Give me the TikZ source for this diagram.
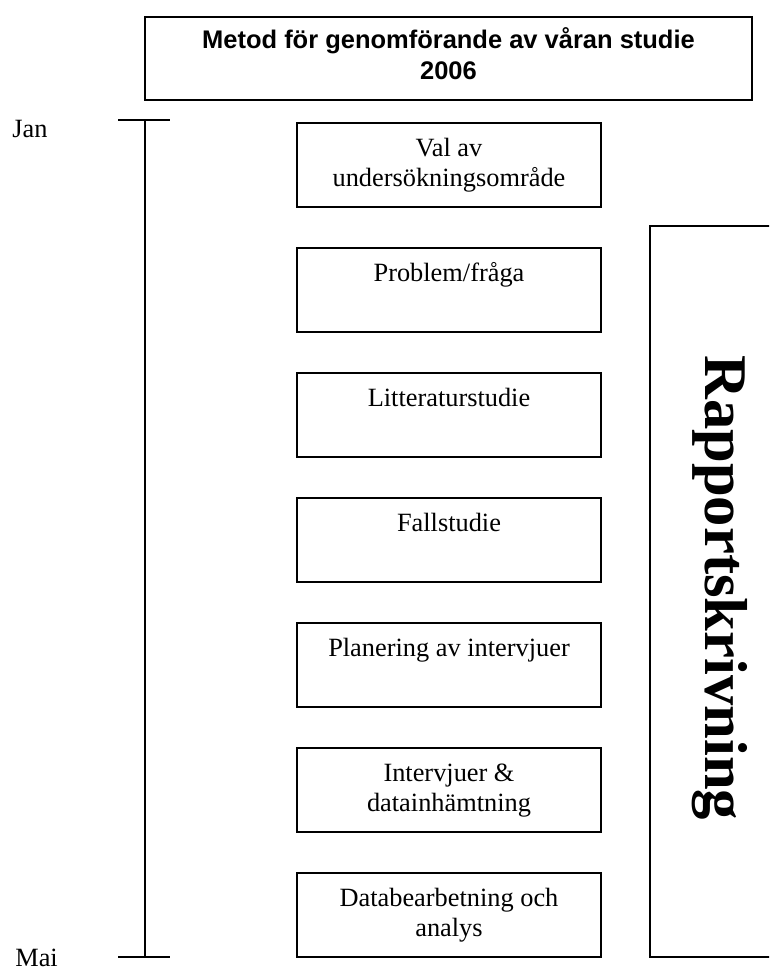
\documentclass[tikz,border=0pt]{standalone}
\usepackage{fontspec}
\setmainfont{Liberation Serif}
\newfontfamily\titlefont{Liberation Sans}

\def \boxw {6.08cm}
\def \boxh {1.68cm}
\def \firstline {0.67cm}
\def \steptext #1{\parbox[c][\boxh][t]{\boxw}{\centering\rule{0pt}{\firstline}#1}}

\tikzset{
  stepbox/.style={draw, line width=1.1pt, inner sep=0pt, anchor=north,
    font=\fontsize{15}{17}\selectfont},
  titlebox/.style={draw, line width=1.1pt, inner sep=0pt, anchor=north,
    font=\titlefont\bfseries\fontsize{14.5}{17.6}\selectfont},
  monthtext/.style={anchor=base west, inner sep=0pt, font=\fontsize{15}{17}\selectfont},
  timeline/.style={line width=0.8pt}
}

\begin{document}
\begin{tikzpicture}[x=0.02cm, y=-0.02cm]
\useasboundingbox (0,0) rectangle (769,971);
\clip (0,0) rectangle (769,971);

\node[titlebox] (title) at (448.5,16)
  {\parbox[c][1.66cm][t]{12.14cm}{\centering\rule{0pt}{0.64cm}Metod för genomförande av våran studie\\2006}};

% time axis
\node[monthtext] (jan) at (12,137) {Jan};
\node[monthtext] (mai) at (15,966) {Mai};
\draw[timeline] (118,120) -- (170,120);
\draw[timeline] (145,120) -- (145,957);
\draw[timeline] (118,957) -- (170,957);

% steps
\draw (449,122) node[stepbox] (val) {\steptext{Val av\\undersökningsområde}};
\draw (449,247) node[stepbox] (problem) {\steptext{Problem/fråga}};
\draw (449,372) node[stepbox] (litteratur) {\steptext{Litteraturstudie}};
\draw (449,497) node[stepbox] (fall) {\steptext{Fallstudie}};
\draw (449,622) node[stepbox] (planering) {\steptext{Planering av intervjuer}};
\draw (449,747) node[stepbox] (intervjuer) {\steptext{Intervjuer \&\\datainhämtning}};
\draw (449,872) node[stepbox] (analys) {\steptext{Databearbetning och\\analys}};

% report writing, runs off the right edge
\draw[line width=1.1pt] (790,226) -| (650,957) -- (790,957);
\node[rotate=-90, anchor=base west, inner sep=0pt,
  font=\bfseries\fontsize{34.5}{40}\selectfont] (rapport) at (705,355) {Rapportskrivning};
\end{tikzpicture}
\end{document}
